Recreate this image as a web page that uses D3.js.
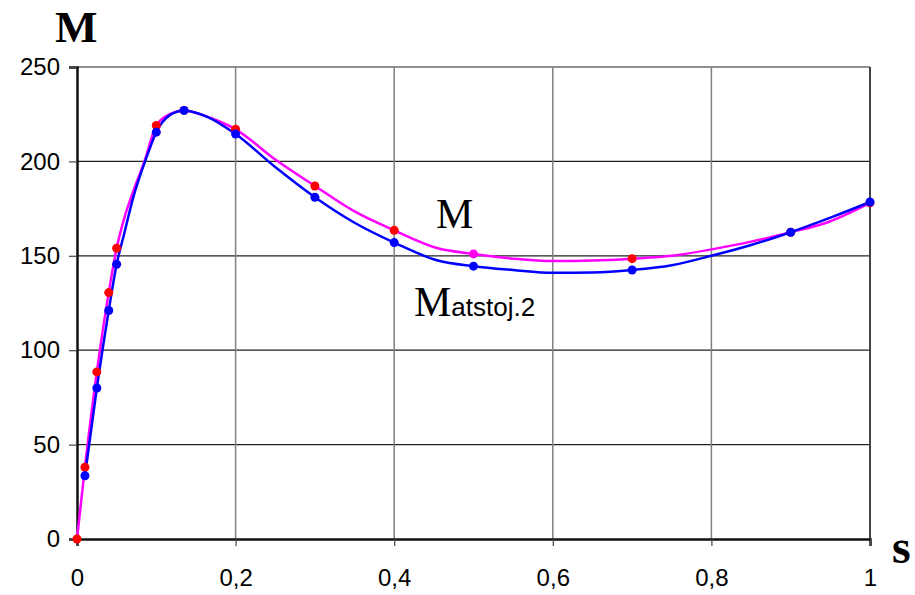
<!DOCTYPE html>
<html lang="en">
<head>
<meta charset="UTF-8">
<title>M(s)</title>
<script src="https://cdn.jsdelivr.net/npm/d3@7"></script>
<style>
  body { margin: 0; background: #fff; }
</style>
</head>
<body>
<div id="chart"></div>
<script>
// slip values of the computed points (markers)
const sPoints = [0, 0.01, 0.025, 0.04, 0.05, 0.1, 0.135, 0.2, 0.3, 0.4, 0.5, 0.7, 0.9, 1];
const mPoints = [0, 38, 88.5, 130.5, 154, 219, 227, 217, 187, 163.5, 151, 148.5, 162.5, 178];
const sPointsAt = [0.01, 0.025, 0.04, 0.05, 0.1, 0.135, 0.2, 0.3, 0.4, 0.5, 0.7, 0.9, 1];
const matPoints = [33.5, 80, 121, 145.5, 215.5, 227, 214.5, 181, 157, 144.5, 142.5, 162.5, 178.5];

// curves
const sLineM = [0, 0.01, 0.025, 0.04, 0.05, 0.06, 0.07, 0.085, 0.1, 0.117, 0.135, 0.165, 0.2, 0.25, 0.3, 0.35, 0.4, 0.455, 0.5, 0.55, 0.6, 0.65, 0.7, 0.75, 0.8, 0.85, 0.9, 0.945, 1];
const mLine = [0, 38, 88.5, 130.5, 154, 170.5, 183, 200, 219, 225, 227, 223.5, 217, 201, 187, 173.5, 163.5, 154, 151, 148.5, 147.2, 147.5, 148.5, 150, 153.4, 157.5, 162.5, 167.5, 178];
const sLineMat = [0.01, 0.025, 0.04, 0.05, 0.06, 0.07, 0.088, 0.1, 0.117, 0.135, 0.165, 0.2, 0.25, 0.3, 0.35, 0.4, 0.455, 0.5, 0.55, 0.6, 0.65, 0.7, 0.75, 0.8, 0.85, 0.9, 0.955, 1];
const matLine = [33.5, 80, 121, 145.5, 162.5, 179.5, 202.5, 215.5, 224.5, 227, 223.5, 214.5, 197, 181, 167.5, 157, 147.5, 144.5, 142.5, 141, 141.2, 142.5, 145, 150, 155.7, 162.5, 171, 178.5];

const xTicks = [0, 0.2, 0.4, 0.6, 0.8, 1];
const yTicks = [0, 50, 100, 150, 200, 250];

const width = 915, height = 595;
const svg = d3.select("#chart").append("svg")
    .attr("width", width)
    .attr("height", height);

const x = d3.scaleLinear().domain([0, 1]).range([77, 870]);
const y = d3.scaleLinear().domain([0, 250]).range([539, 67]);

const sans = "'Liberation Sans', Arial, sans-serif";
const serif = "'Liberation Serif', 'Times New Roman', serif";

// grid
svg.append("g").selectAll("line")
    .data(yTicks.filter(d => d > 0))
    .enter().append("line")
    .attr("x1", x(0)).attr("x2", x(1))
    .attr("y1", d => y(d)).attr("y2", d => y(d))
    .attr("stroke", "#222").attr("stroke-width", 1.2);

svg.append("g").selectAll("line")
    .data(xTicks.filter(d => d > 0))
    .enter().append("line")
    .attr("x1", d => x(d)).attr("x2", d => x(d))
    .attr("y1", y(0)).attr("y2", y(250))
    .attr("stroke", d => d === 1 ? "#444" : "#808080")
    .attr("stroke-width", d => d === 1 ? 2 : 1.5);

// axes
const xAxis = svg.append("g")
    .attr("transform", "translate(0," + y(0) + ")")
    .call(d3.axisBottom(x).tickValues(xTicks).tickSize(7).tickPadding(23)
        .tickFormat(d => d3.format("~g")(d).replace(".", ",")));
const yAxis = svg.append("g")
    .attr("transform", "translate(" + x(0) + ",0)")
    .call(d3.axisLeft(y).tickValues(yTicks).tickSize(8).tickPadding(9));

[xAxis, yAxis].forEach(function(g) {
    g.select(".domain").attr("stroke", "#111").attr("stroke-width", 2.5);
    g.selectAll(".tick line").attr("stroke", "#444").attr("stroke-width", 1.2);
    g.selectAll("text").attr("font-family", sans).attr("font-size", 24).attr("fill", "#000");
});

// curves
const line = d3.line()
    .x(d => x(d[0]))
    .y(d => y(d[1]))
    .curve(d3.curveMonotoneX);

svg.append("path")
    .datum(sLineM.map((s, i) => [s, mLine[i]]))
    .attr("d", line)
    .attr("fill", "none")
    .attr("stroke", "#ff00ff")
    .attr("stroke-width", 2.5);

svg.append("path")
    .datum(sLineMat.map((s, i) => [s, matLine[i]]))
    .attr("d", line)
    .attr("fill", "none")
    .attr("stroke", "#0000ff")
    .attr("stroke-width", 2.5);

// markers
svg.append("g").selectAll("circle")
    .data(sPoints.map((s, i) => [s, mPoints[i]]))
    .enter().append("circle")
    .attr("cx", d => x(d[0]))
    .attr("cy", d => y(d[1]))
    .attr("r", 4.5)
    .attr("fill", d => d[0] === 0.5 ? "#ff00ee" : "#ff0000");

svg.append("g").selectAll("circle")
    .data(sPointsAt.map((s, i) => [s, matPoints[i]]))
    .enter().append("circle")
    .attr("cx", d => x(d[0]))
    .attr("cy", d => y(d[1]))
    .attr("r", 4.5)
    .attr("fill", "#0000ff");

// titles and labels
svg.append("text")
    .attr("x", 55).attr("y", 42)
    .attr("font-family", serif).attr("font-weight", "bold").attr("font-size", 45)
    .text("M");

svg.append("text")
    .attr("x", 892).attr("y", 563)
    .attr("font-family", serif).attr("font-weight", "bold").attr("font-size", 48)
    .text("s");

svg.append("text")
    .attr("x", 436).attr("y", 228)
    .attr("font-family", serif).attr("font-size", 42)
    .text("M");

const lab = svg.append("text")
    .attr("x", 414).attr("y", 316)
    .attr("font-family", serif).attr("font-size", 42);
lab.append("tspan").text("M");
lab.append("tspan").attr("font-family", sans).attr("font-size", 26).text("atstoj.2");
</script>
</body>
</html>
